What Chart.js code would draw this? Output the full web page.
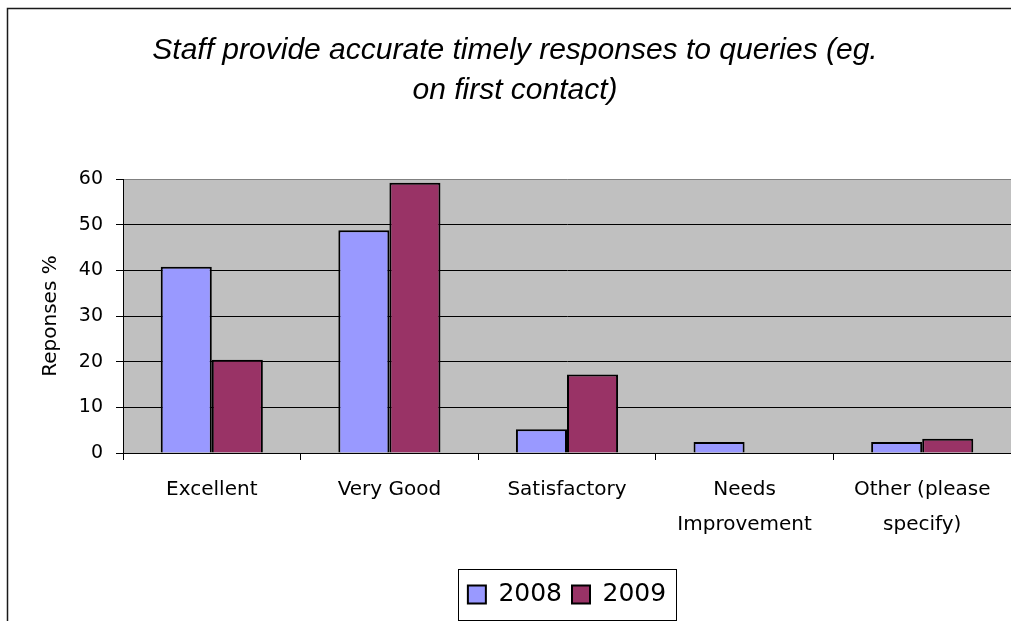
<!DOCTYPE html>
<html>
<head>
<meta charset="utf-8">
<script src="https://cdn.jsdelivr.net/npm/chart.js@4/dist/chart.umd.min.js"></script>
<style>
  html, body { margin: 0; padding: 0; background: #ffffff; }
  #wrap { width: 1011px; height: 621px; position: relative; }
</style>
</head>
<body>
<div id="wrap"><canvas id="c" width="1011" height="621"></canvas></div>
<script>
const titleLines = ['Staff provide accurate timely responses to queries (eg.', 'on first contact)'];
const categories = ['Excellent', 'Very Good', 'Satisfactory', ['Needs', 'Improvement'], ['Other (please', 'specify)']];
const seriesNames = ['2008', '2009'];
const values2008 = [40.8, 48.8, 5.2, 2.4, 2.4];
const values2009 = [20.4, 59.2, 17.2, 0, 3.1];
const yTitle = 'Reponses %';
const yMin = 0, yMax = 60, yStep = 10;

const frameAndBg = {
  id: 'frameAndBg',
  beforeDraw(chart) {
    const ctx = chart.ctx, a = chart.chartArea;
    ctx.save();
    ctx.fillStyle = '#ffffff';
    ctx.fillRect(0, 0, chart.width, chart.height);
    ctx.strokeStyle = '#1a1a1a';
    ctx.lineWidth = 1.5;
    ctx.strokeRect(7.5, 8.5, 1200, 1000);
    ctx.fillStyle = '#C0C0C0';
    ctx.fillRect(a.left, a.top, a.right - a.left, a.bottom - a.top);
    ctx.restore();
  },
  afterDraw(chart) {
    const lg = chart.legend;
    if (!lg || !lg.legendHitBoxes || !lg.legendHitBoxes.length) return;
    const hb = lg.legendHitBoxes;
    let l = Infinity, r = -Infinity, cy = 0;
    hb.forEach(h => { l = Math.min(l, h.left); r = Math.max(r, h.left + h.width); cy += h.top + h.height / 2; });
    cy /= hb.length;
    const ctx = chart.ctx;
    ctx.save();
    ctx.strokeStyle = '#000';
    ctx.lineWidth = 1;
    ctx.strokeRect(Math.round(l - 10) + 0.5, Math.round(cy - 26) + 0.5, Math.round(r - l + 20), 51);
    ctx.restore();
  }
};

new Chart(document.getElementById('c'), {
  type: 'bar',
  data: {
    labels: categories,
    datasets: [
      { label: seriesNames[0], data: values2008, backgroundColor: '#9999FF', borderColor: '#000000', borderWidth: 2 },
      { label: seriesNames[1], data: values2009, backgroundColor: '#993366', borderColor: '#000000', borderWidth: 2 }
    ]
  },
  options: {
    responsive: false,
    animation: false,
    layout: { padding: { left: 19, right: 0, top: 0, bottom: 4 } },
    datasets: { bar: { categoryPercentage: 0.575, barPercentage: 1.0 } },
    plugins: {
      title: {
        display: true,
        text: titleLines,
        color: '#000',
        font: { family: '"Liberation Sans", Arial, sans-serif', size: 30, style: 'italic', weight: 'normal', lineHeight: 40 / 30 },
        padding: { top: 31, bottom: 68 }
      },
      legend: {
        display: true,
        position: 'bottom',
        fullSize: false,
        labels: {
          color: '#000',
          boxWidth: 18,
          boxHeight: 18,
          padding: 10,
          font: { family: '"DejaVu Sans", sans-serif', size: 25 }
        }
      },
      tooltip: { enabled: false }
    },
    scales: {
      x: {
        offset: true,
        afterFit(scale) { scale.height = 119; },
        grid: { offset: true, drawOnChartArea: false, drawTicks: true, tickLength: 7, color: '#000', tickColor: '#000' },
        border: { display: true, color: '#000', width: 1 },
        ticks: {
          color: '#000',
          padding: 12,
          maxRotation: 0,
          autoSkip: false,
          font: { family: '"DejaVu Sans", sans-serif', size: 20, lineHeight: 35 / 20 }
        }
      },
      y: {
        min: yMin,
        max: yMax,
        afterFit(scale) { scale.width = 104; },
        grid: {
          drawTicks: true,
          tickLength: 7,
          color: (c) => (c.tick && c.tick.value === yMax) ? '#808080' : '#000',
          tickColor: '#000',
          lineWidth: 1
        },
        border: { display: true, color: '#000', width: 1 },
        ticks: {
          stepSize: yStep,
          color: '#000',
          padding: 13,
          font: { family: '"DejaVu Sans", sans-serif', size: 19 }
        },
        title: {
          display: true,
          text: yTitle,
          color: '#000',
          padding: { top: 20, bottom: 0 },
          font: { family: '"DejaVu Sans", sans-serif', size: 20 }
        }
      }
    }
  },
  plugins: [frameAndBg]
});
</script>
</body>
</html>
